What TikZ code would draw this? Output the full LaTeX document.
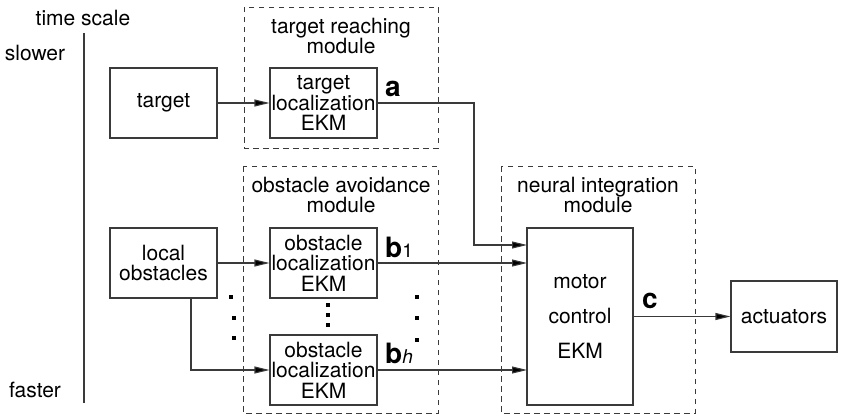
\documentclass[tikz,border=0pt]{standalone}
\usepackage{fontspec}
\setmainfont{TeX Gyre Heros}
\usetikzlibrary{arrows.meta}
\definecolor{linegray}{HTML}{3A3A3A}
\tikzset{
  txt/.style={font=\fontsize{21}{20.5}\selectfont, align=center, inner sep=0pt},
  blk/.style={draw=linegray, line width=1.1pt, inner sep=0pt, align=center,
              font=\fontsize{21}{20.5}\selectfont},
  modbox/.style={draw=linegray, line width=0.9pt, dash pattern=on 5.5pt off 4.5pt},
  arr/.style={draw=linegray, line width=1.1pt, -{Triangle[length=15pt,width=7pt,fill=black]}},
  wire/.style={draw=linegray, line width=1.1pt},
  sig/.style={font=\fontsize{28}{28}\selectfont\bfseries, inner sep=0pt, anchor=base west},
  dot/.style={fill=black}
}
\newcommand{\smallidx}[1]{{\fontsize{19}{19}\selectfont\mdseries #1}}
\begin{document}
\begin{tikzpicture}[x=1pt,y=-1pt]
\useasboundingbox (0,0) rectangle (842,417);

% time axis
\node[txt] (ts) at (83,18.5) {time scale};
\coordinate (axtop) at (84,33);
\coordinate (axbot) at (84,403);
\draw[wire] (axtop) -- (axbot);
\node[txt] (slow) at (35,53) {slower};
\node[txt] (fast) at (35,390) {faster};

% module frames
\draw[modbox] (244,7) rectangle (438,148);
\draw[modbox] (243,166) rectangle (438,413);
\draw[modbox] (501,166) rectangle (695,413);
\node[txt] (trmlab) at (341,36) {target reaching\\module};
\node[txt] (oamlab) at (341,195) {obstacle avoidance\\module};
\node[txt] (nimlab) at (598,195) {neural integration\\module};

% blocks
\node[blk, minimum width=107pt, minimum height=70pt] (target) at (163.5,103) {target};
\node[blk, minimum width=107pt, minimum height=70pt] (tloc) at (323.5,103) {target\\localization\\EKM};
\node[blk, minimum width=107pt, minimum height=70pt] (lobs) at (163.5,263) {local\\obstacles};
\node[blk, minimum width=107pt, minimum height=70pt] (oloc1) at (323.5,263) {obstacle\\localization\\EKM};
\node[blk, minimum width=107pt, minimum height=70pt] (oloch) at (323.5,370) {obstacle\\localization\\EKM};
\node[blk, minimum width=106pt, minimum height=177pt,
      font=\fontsize{21}{35}\selectfont] (motor) at (580,316.5) {motor\\control\\EKM};
\node[blk, minimum width=106pt, minimum height=71pt] (act) at (784,316.5) {actuators};

% connectors
\coordinate (turn) at (474,103);
\coordinate (inA) at (527,245);
\coordinate (inB) at (527,263);
\coordinate (inC) at (527,370);
\coordinate (lbranch) at (191,298);
\draw[arr] (target) -- (tloc);
\draw[arr] (tloc.east) -- (turn) |- (inA);
\draw[arr] (lobs.east) -- (oloc1.west);
\draw[arr] (lbranch) |- (oloch.west);
\draw[arr] (oloc1.east) -- (inB);
\draw[arr] (oloch.east) -- (inC);
\draw[arr] (motor.east |- act.west) -- (act.west);

% signal labels
\node[sig] (la) at (385,97) {a};
\node[sig] (lb1) at (385,257) {b\smallidx{1}};
\node[sig] (lbh) at (385,363) {b\smallidx{\itshape h}};
\node[sig] (lc) at (642,308) {c};

% ellipsis dots
\foreach \p in {(231,297),(234,318),(234,338),
                (328,305),(328,315),(328,325),
                (417,297),(417,318),(417,340)}
  \fill[dot] \p ++(-1.8,-1.8) rectangle ++(3.6,3.6);
\end{tikzpicture}
\end{document}
